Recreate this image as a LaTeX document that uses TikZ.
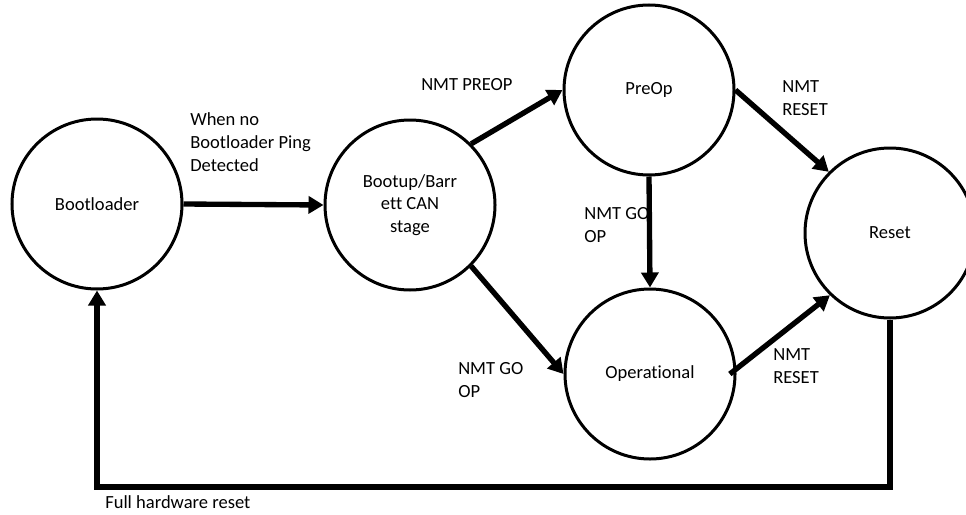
\documentclass[tikz,border=0pt]{standalone}
\usepackage{fontspec}
\setmainfont{Carlito}[Ligatures={NoCommon}]
\usetikzlibrary{arrows.meta}
\begin{document}
\begin{tikzpicture}[x=0.75pt,y=-0.75pt,
  every node/.style={font=\fontsize{13.9}{16.9}\selectfont},
  state/.style={circle,draw,line width=2.25pt,minimum size=127.5pt,inner sep=0pt,align=center},
  conn/.style={line width=4pt,-{Triangle[length=11.25pt,width=12.75pt]}},
  lbl/.style={anchor=base west,align=left,inner sep=0pt}]
\useasboundingbox (0,0) rectangle (966,514);
\node[state] (bl) at (97,204) {Bootloader};
\node[state] (bu) at (410,205) {Bootup/Barr\\ett CAN\\stage};
\node[state] (pre) at (649,90) {PreOp};
\node[state] (op) at (650,374) {Operational};
\node[state] (rs) at (890,233) {Reset};
\coordinate (fr) at (0,487);
\draw[conn] (bl.east) -- (bu.west);
\draw[conn] (bu.45) -- (pre.west);
\draw[conn] (bu.-45) -- (op.west);
\draw[conn] (pre.south) -- (op.north);
\draw[conn] (pre.east) -- (rs.135);
\draw[conn] ([xshift=-5pt]op.east) -- (rs.226);
\draw[conn,line join=miter] (rs.south) -- (rs.south |- fr) -- (bl.south |- fr) -- (bl.south);
\node[lbl] (l1) at (190,171) {When no\\Bootloader Ping\\Detected};
\node[lbl] (l2) at (421,90) {NMT PREOP};
\node[lbl] (l3) at (782,115) {NMT\\RESET};
\node[lbl] (l4) at (584,242) {NMT GO\\OP};
\node[lbl] (l5) at (458,397) {NMT GO\\OP};
\node[lbl] (l6) at (773,383) {NMT\\RESET};
\node[lbl] (l7) at (105,508) {Full hardware reset};
\end{tikzpicture}
\end{document}
